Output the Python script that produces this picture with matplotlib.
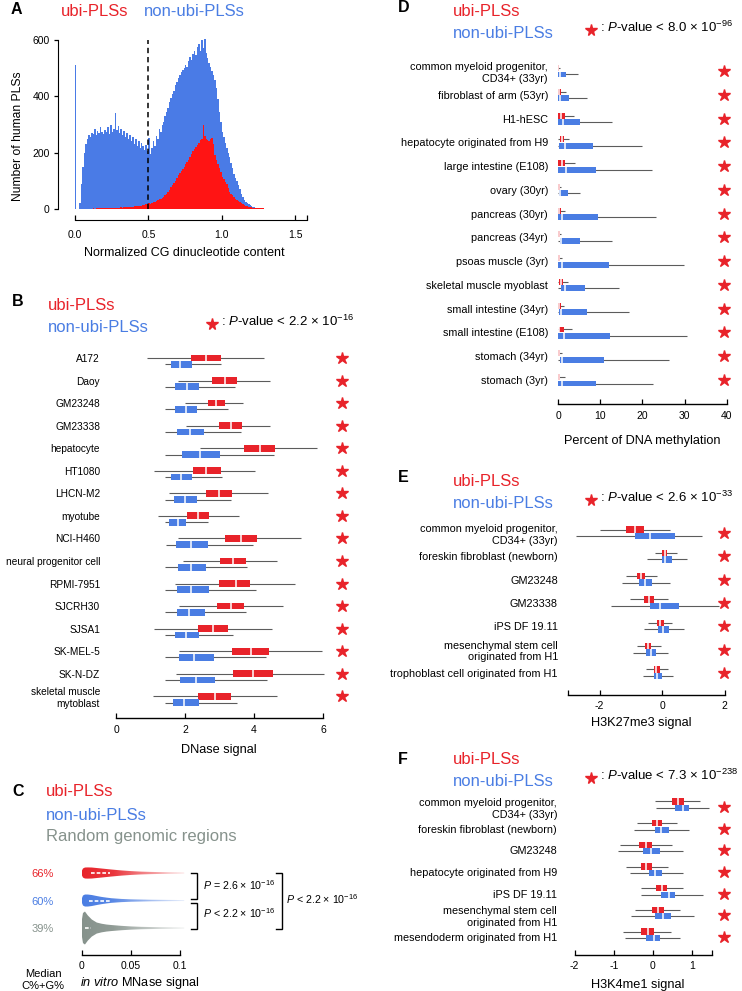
import numpy as np
import matplotlib
matplotlib.use('Agg')
import matplotlib.pyplot as plt
from matplotlib.patches import Polygon

plt.rcParams['font.family'] = ['Liberation Sans', 'DejaVu Sans']
plt.rcParams['mathtext.fontset'] = 'custom'
plt.rcParams['mathtext.rm'] = 'Liberation Sans'
plt.rcParams['mathtext.it'] = 'Liberation Sans:italic'
plt.rcParams['mathtext.bf'] = 'Liberation Sans:bold'
plt.rcParams['axes.unicode_minus'] = False

RED = '#e8232a'
BLUE = '#4a7de3'
GRAY = '#86928c'
HIST_RED = '#ff1414'
HIST_BLUE = '#4a7be6'
WHISK = '#5c5c5c'

# ---- panel A : histogram of normalized CG content (bin width 0.01, from 0) ----
a_bin = 0.01
a_non_ubi = [510, 0, 0, 20, 90, 150, 200, 230, 250, 262,
             255, 270, 268, 285, 262, 278, 270, 290, 275, 268,
             280, 272, 290, 268, 300, 275, 285, 342, 280, 295,
             270, 285, 262, 278, 255, 270, 248, 262, 240, 255,
             232, 248, 225, 240, 218, 235, 222, 210, 228, 205,
             252, 195, 215, 240, 225, 260, 250, 285, 275, 300,
             310, 330, 345, 360, 380, 395, 410, 420, 440, 450,
             465, 475, 485, 495, 500, 510, 505, 525, 540, 530,
             550, 560, 545, 575, 585, 560, 600, 570, 605, 555,
             535, 520, 505, 490, 475, 458, 430, 390, 345, 310,
             275, 255, 235, 215, 200, 185, 165, 145, 125, 110,
             100, 85, 70, 55, 42, 32, 25, 20, 16, 14,
             10, 8, 6, 5, 4, 3, 3, 2, 2, 1,
             1, 1, 1, 0, 0, 0, 0, 0, 0, 0]
a_ubi = [0, 0, 0, 0, 0, 1, 1, 1, 1, 1,
         1, 1, 2, 1, 2, 2, 2, 3, 2, 3,
         3, 3, 4, 3, 4, 4, 5, 4, 5, 5,
         5, 6, 5, 6, 7, 6, 7, 8, 7, 8,
         9, 10, 9, 11, 12, 11, 13, 14, 16, 18,
         20, 18, 22, 24, 26, 28, 31, 34, 37, 40,
         44, 48, 55, 60, 68, 78, 85, 92, 100, 110,
         120, 128, 135, 142, 150, 160, 168, 175, 185, 195,
         205, 212, 220, 228, 235, 245, 250, 300, 260, 250,
         245, 240, 248, 252, 230, 190, 175, 160, 145, 130,
         115, 105, 95, 88, 75, 62, 55, 48, 42, 36,
         32, 28, 24, 20, 17, 14, 12, 10, 8, 7,
         6, 5, 4, 4, 3, 3, 2, 2, 2, 1,
         1, 1, 1, 1, 1, 1, 1, 1, 1, 1]
a_cutoff = 0.5

# ---- panel B : DNase signal  (low whisker, q1, median, q3, high whisker) ----
b_cells = ['A172', 'Daoy', 'GM23248', 'GM23338', 'hepatocyte', 'HT1080',
           'LHCN-M2', 'myotube', 'NCI-H460', 'neural progenitor cell',
           'RPMI-7951', 'SJCRH30', 'SJSA1', 'SK-MEL-5', 'SK-N-DZ',
           'skeletal muscle\nmytoblast']
b_ubi = [(0.89, 2.16, 2.60, 3.03, 4.29), (1.80, 2.79, 3.15, 3.50, 4.45),
         (2.01, 2.66, 2.91, 3.15, 3.69), (2.03, 2.98, 3.32, 3.64, 4.47),
         (2.43, 3.71, 4.17, 4.60, 5.83), (1.11, 2.23, 2.62, 3.03, 4.03),
         (1.54, 2.60, 2.98, 3.35, 4.41), (1.21, 2.06, 2.38, 2.70, 3.57),
         (1.80, 3.15, 3.61, 4.10, 5.36), (1.94, 3.01, 3.39, 3.78, 4.66),
         (1.70, 2.98, 3.47, 3.88, 5.19), (1.83, 2.93, 3.32, 3.71, 4.83),
         (1.11, 2.38, 2.82, 3.25, 4.53), (1.82, 3.35, 3.90, 4.44, 5.97),
         (1.74, 3.39, 3.98, 4.55, 6.04), (1.06, 2.38, 2.86, 3.32, 4.68)]
b_non_ubi = [(1.43, 1.59, 1.86, 2.20, 3.05), (1.43, 1.72, 2.06, 2.42, 3.45),
             (1.43, 1.72, 2.04, 2.35, 3.25), (1.43, 1.77, 2.14, 2.54, 3.63),
             (1.43, 1.91, 2.43, 3.00, 4.58), (1.43, 1.59, 1.88, 2.20, 3.06),
             (1.43, 1.67, 1.99, 2.35, 3.32), (1.43, 1.55, 1.79, 2.03, 2.66),
             (1.45, 1.75, 2.16, 2.66, 3.97), (1.43, 1.79, 2.17, 2.61, 3.79),
             (1.43, 1.77, 2.17, 2.71, 4.05), (1.43, 1.77, 2.13, 2.59, 3.76),
             (1.43, 1.70, 2.03, 2.42, 3.40), (1.43, 1.82, 2.27, 2.83, 4.36),
             (1.43, 1.86, 2.33, 2.88, 4.39), (1.43, 1.64, 1.96, 2.40, 3.51)]

# ---- panel C : in vitro MNase signal violins ----
c_median_gc = ['66%', '60%', '39%']
c_grid = [0, 0.001, 0.003, 0.006, 0.01, 0.015, 0.02, 0.025, 0.03, 0.04,
          0.05, 0.06, 0.07, 0.08, 0.09, 0.1, 0.104]
c_ubi_density = [2.5, 4.5, 5.5, 5.6, 5.5, 5.0, 4.5, 4.0, 3.5, 2.6,
                 1.9, 1.4, 1.1, 0.9, 0.7, 0.6, 0.5]
c_non_ubi_density = [2.5, 5.0, 6.0, 6.0, 5.5, 4.5, 3.6, 2.9, 2.3, 1.6,
                     1.2, 1.0, 0.8, 0.7, 0.6, 0.5, 0.5]
c_random_density = [9.0, 15.0, 16.5, 12.5, 8.5, 5.5, 4.3, 3.5, 3.0, 2.2,
                    1.6, 1.2, 1.0, 0.8, 0.7, 0.6, 0.5]
c_iqr = [(0.009, 0.028), (0.007, 0.028), (0.003, 0.009)]
c_pvalues = ['$\\mathit{P}$ = 2.6 × 10$^{-16}$', '$\\mathit{P}$ < 2.2 × 10$^{-16}$',
             '$\\mathit{P}$ < 2.2 × 10$^{-16}$']

# ---- panel D : percent of DNA methylation ----
d_cells = ['common myeloid progenitor,\nCD34+ (33yr)', 'fibroblast of arm (53yr)',
           'H1-hESC', 'hepatocyte originated from H9', 'large intestine (E108)',
           'ovary (30yr)', 'pancreas (30yr)', 'pancreas (34yr)', 'psoas muscle (3yr)',
           'skeletal muscle myoblast', 'small intestine (34yr)',
           'small intestine (E108)', 'stomach (34yr)', 'stomach (3yr)']
d_ubi = [(0, 0, 0.1, 0.25, 0.4), (0, 0, 0.3, 0.8, 2.0), (0, 0, 0.6, 1.6, 3.75),
         (0, 0.4, 0.9, 1.4, 2.6), (0, 0, 0.9, 1.7, 4.1), (0, 0, 0.2, 0.45, 0.8),
         (0, 0, 0.3, 0.6, 1.7), (0, 0, 0.2, 0.45, 0.8), (0, 0, 0.2, 0.45, 0.9),
         (0, 0.2, 0.8, 1.3, 2.3), (0, 0, 0.3, 0.6, 1.4), (0, 0.15, 0.3, 1.4, 3.4),
         (0, 0, 0.2, 0.5, 1.0), (0, 0, 0.25, 0.5, 1.6)]
d_non_ubi = [(0, 0, 0.4, 1.8, 4.7), (0, 0, 0.5, 2.7, 6.9), (0, 0, 1.2, 5.2, 12.8),
             (0, 0.2, 1.6, 8.3, 19.9), (0, 0, 1.8, 9.0, 22.3), (0, 0.15, 0.5, 2.3, 5.2),
             (0, 0, 0.9, 9.4, 23.2), (0, 0.4, 0.8, 5.3, 12.8), (0, 0, 0.9, 12.0, 29.9),
             (0, 0.8, 1.6, 6.3, 14.5), (0, 0.15, 0.8, 6.9, 16.9), (0, 0, 1.4, 12.3, 30.7),
             (0, 0.4, 1.0, 10.8, 26.3), (0, 0, 0.9, 9.1, 22.5)]

# ---- panel E : H3K27me3 signal ----
e_cells = ['common myeloid progenitor,\nCD34+ (33yr)', 'foreskin fibroblast (newborn)',
           'GM23248', 'GM23338', 'iPS DF 19.11',
           'mesenchymal stem cell\noriginated from H1', 'trophoblast cell originated from H1']
e_ubi = [(-1.98, -1.15, -0.87, -0.58, 0.24), (-0.23, 0.01, 0.08, 0.16, 0.49),
         (-1.16, -0.79, -0.66, -0.53, -0.16), (-1.03, -0.57, -0.41, -0.25, 0.19),
         (-0.44, -0.16, -0.05, 0.05, 0.32), (-0.79, -0.55, -0.44, -0.34, -0.04),
         (-0.50, -0.26, -0.18, -0.07, 0.19)]
e_non_ubi = [(-2.74, -0.85, -0.39, 0.42, 1.27), (-0.48, 0.0, 0.10, 0.33, 0.80),
             (-1.29, -0.73, -0.55, -0.32, 0.24), (-1.64, -0.39, -0.07, 0.53, 1.81),
             (-0.58, -0.13, 0.03, 0.22, 0.69), (-0.92, -0.52, -0.36, -0.18, 0.19),
             (-0.60, -0.25, -0.15, 0.0, 0.35)]

# ---- panel F : H3K4me1 signal ----
f_cells = ['common myeloid progenitor,\nCD34+ (33yr)', 'foreskin fibroblast (newborn)',
           'GM23248', 'hepatocyte originated from H9', 'iPS DF 19.11',
           'mesenchymal stem cell\noriginated from H1', 'mesendoderm originated from H1']
f_ubi = [(0.06, 0.49, 0.64, 0.78, 1.20), (-0.42, -0.03, 0.10, 0.24, 0.61),
         (-0.85, -0.36, -0.17, -0.02, 0.49), (-0.70, -0.31, -0.17, -0.03, 0.38),
         (-0.31, 0.08, 0.23, 0.36, 0.76), (-0.45, -0.03, 0.13, 0.27, 0.70),
         (-0.76, -0.31, -0.14, 0.03, 0.45)]
f_non_ubi = [(0.08, 0.57, 0.76, 0.93, 1.42), (-0.48, 0.04, 0.21, 0.40, 0.93),
             (-0.89, -0.25, -0.04, 0.17, 0.76), (-0.59, -0.11, 0.06, 0.24, 0.76),
             (-0.30, 0.21, 0.41, 0.57, 1.27), (-0.57, 0.04, 0.25, 0.47, 1.04),
             (-0.72, -0.17, 0.03, 0.19, 0.70)]

W, H = 742, 991
fig = plt.figure(figsize=(W / 100, H / 100), dpi=100)


def px_axes(x0, y0, x1, y1, xref, yref):
    '''axes placed in pixel coords, limits set so that xref/yref pixels hit given values'''
    ax = fig.add_axes([x0 / W, 1 - y1 / H, (x1 - x0) / W, (y1 - y0) / H])
    def lin(p, ref):
        (pa, va), (pb, vb) = ref
        return va + (p - pa) * (vb - va) / (pb - pa)
    ax.set_xlim(lin(x0, xref), lin(x1, xref))
    ax.set_ylim(lin(y1, yref), lin(y0, yref))
    ax.patch.set_visible(False)
    return ax


def bottom_axis(ax, ticks, labels, bounds, pad=5):
    for s in ['top', 'right', 'left']:
        ax.spines[s].set_visible(False)
    ax.spines['bottom'].set_bounds(*bounds)
    ax.spines['bottom'].set_linewidth(1.0)
    ax.set_xticks(ticks)
    ax.set_xticklabels(labels)
    ax.tick_params(axis='x', direction='in', length=3.5, width=0.9, labelsize=7.5, pad=pad)


def box_rows(ax, labels, ubi, non_ubi, red_off, blue_off, h, star_x, labelsize=7.8):
    rows = np.arange(len(labels))
    for stats, off, color in [(ubi, red_off, RED), (non_ubi, blue_off, BLUE)]:
        s = np.array(stats, dtype=float)
        y = rows + off
        ax.hlines(y, s[:, 0], s[:, 4], color=WHISK, lw=0.8, zorder=1)
        ax.barh(y, s[:, 3] - s[:, 1], left=s[:, 1], height=h, color=color, lw=0, zorder=2)
        ax.vlines(s[:, 2], y - h / 2, y + h / 2, color='white', lw=1.1, zorder=3)
    ax.plot(np.full(len(rows), star_x), rows, ls='none', marker='*', ms=9,
            color=RED, mec=RED, clip_on=False)
    ax.set_yticks(rows)
    ax.set_yticklabels(labels)
    ax.tick_params(axis='y', length=0, labelsize=labelsize, pad=3.6)


# ---- A ----
axA = px_axes(58, 30, 310, 220, ((75, 0.0), (295, 1.5)), ((209, 0), (40, 600)))
lefts = np.arange(len(a_non_ubi)) * a_bin
axA.bar(lefts, a_non_ubi, width=a_bin, align='edge', color=HIST_BLUE, lw=0)
axA.bar(lefts, a_ubi, width=a_bin, align='edge', color=HIST_RED, lw=0)
axA.vlines(a_cutoff, 0, 600, colors='black', linestyles=(0, (3.5, 2.5)), lw=1.1)
for s in ['top', 'right']:
    axA.spines[s].set_visible(False)
axA.spines['left'].set_bounds(0, 600)
axA.spines['bottom'].set_bounds(0, 1.58)
axA.set_yticks([0, 200, 400, 600])
axA.set_xticks([0, 0.5, 1.0, 1.5, 1.58])
axA.set_xticklabels(['0.0', '0.5', '1.0', '1.5', ''])
axA.tick_params(axis='x', direction='in', length=3.5, width=0.9, labelsize=7.5, pad=7)
axA.tick_params(axis='y', direction='out', length=3, width=0.9, labelsize=7.5, pad=3)

# ---- B ----
axB = px_axes(105, 344.5, 335, 718, ((116, 0), (323, 6)), ((358, 0), (380.55, 1)))
box_rows(axB, b_cells, b_ubi, b_non_ubi, 0.0, 0.28, 0.3, 6.55, labelsize=7.3)
bottom_axis(axB, [0, 2, 4, 6], ['0', '2', '4', '6'], (0, 6))

# ---- C ----
axC = px_axes(75, 855, 300, 955, ((82, 0), (180.3, 0.1)), ((873, 0), (900.5, 1)))
c_colors = [RED, BLUE, GRAY]
c_scale = 1 / 27.5
for i, dens in enumerate([c_ubi_density, c_non_ubi_density, c_random_density]):
    xs = np.array(c_grid)
    hw = np.array(dens) * c_scale
    verts = np.concatenate([np.column_stack([xs, i - hw]),
                            np.column_stack([xs[::-1], i + hw[::-1]])])
    poly = Polygon(verts, closed=True, facecolor='none', edgecolor='none')
    axC.add_patch(poly)
    rgb = matplotlib.colors.to_rgb(c_colors[i])
    t = np.linspace(0, 1, 256)
    grad = np.zeros((1, 256, 4))
    grad[..., :3] = rgb
    grad[..., 3] = np.interp(t, [0, 0.3, 1], [1, 0.92, 0.12])
    im = axC.imshow(grad, extent=[xs[0], xs[-1], i - 0.7, i + 0.7],
                    aspect='auto', interpolation='bilinear', zorder=2)
    im.set_clip_path(poly)
    axC.hlines(i, c_iqr[i][0], c_iqr[i][1], colors='white',
               linestyles=(0, (2.2, 1.2)), lw=1.2, zorder=3)
axC.set_xlim(-0.00712, 0.2218)
axC.set_ylim(2.98, -0.655)
bottom_axis(axC, [0, 0.05, 0.1], ['0', '0.05', '0.1'], (0, 0.1), pad=4)
axC.set_yticks([0, 1, 2])
axC.set_yticklabels(c_median_gc)
axC.tick_params(axis='y', length=0, labelsize=8, pad=15.5)
for lab, col in zip(axC.get_yticklabels(), c_colors):
    lab.set_color(col)


def bracket(ax, x, y0, y1, tick=0.006):
    ax.plot([x - tick, x, x, x - tick], [y0, y0, y1, y1], color='black',
            lw=1.0, clip_on=False, solid_joinstyle='miter')


bracket(axC, 0.117, 0.0, 0.945)
bracket(axC, 0.117, 1.09, 2.03)
bracket(axC, 0.2035, 0.0, 2.03)
axC.text(0.123, 0.44, c_pvalues[0], fontsize=7.7, va='center', ha='left', clip_on=False)
axC.text(0.123, 1.455, c_pvalues[1], fontsize=7.7, va='center', ha='left', clip_on=False)
axC.text(0.2075, 0.945, c_pvalues[2], fontsize=7.7, va='center', ha='left', clip_on=False)

# ---- D ----
axD = px_axes(553, 56, 733, 404, ((558, 0), (726.7, 40)), ((71, 0), (94.77, 1)))
box_rows(axD, d_cells, d_ubi, d_non_ubi, -0.126, 0.147, 0.25, 39.3)
bottom_axis(axD, [0, 10, 20, 30, 40], ['0', '10', '20', '30', '40'], (0, 40))

# ---- E ----
axE = px_axes(563, 515, 733, 695, ((662, 0), (724.5, 2)), ((533, 0), (556.33, 1)))
box_rows(axE, e_cells, e_ubi, e_non_ubi, -0.15, 0.13, 0.28, 1.98)
bottom_axis(axE, [-3, -2, 0, 2], ['', '-2', '0', '2'], (-3, 2), pad=4)

# ---- F ----
axF = px_axes(562, 790, 733, 955, ((653, 0), (692.2, 1)), ((807, 0), (828.67, 1)))
box_rows(axF, f_cells, f_ubi, f_non_ubi, -0.254, 0.046, 0.29, 1.81)
bottom_axis(axF, [-2, -1, 0, 1, 1.5], ['-2', '-1', '0', '1', ''], (-2, 1.5), pad=4)

# ---- free text, in pixel coordinates ----
ov = fig.add_axes([0, 0, 1, 1], zorder=10)
ov.set_xlim(0, W)
ov.set_ylim(H, 0)
ov.axis('off')


def letter(x, y, s):
    ov.text(x, y, s, fontsize=11.5, fontweight='bold', va='center', ha='left')


def legend_pair(x, y_ubi, y_non, star=None):
    ov.text(x, y_ubi, 'ubi-PLSs', color=RED, fontsize=12, va='center', ha='left')
    ov.text(x, y_non, 'non-ubi-PLSs', color=BLUE, fontsize=12, va='center', ha='left')
    if star is not None:
        sx, sy, ptxt = star
        ov.plot([sx], [sy + 2.5], marker='*', ms=8.5, color=RED, mec=RED)
        ov.text(sx + 9, sy, ': $\\mathit{P}$-value < ' + ptxt, fontsize=9.5,
                va='center', ha='left')


letter(11, 9, 'A')
ov.text(61, 11, 'ubi-PLSs', color=RED, fontsize=12, va='center', ha='left')
ov.text(144, 11, 'non-ubi-PLSs', color=BLUE, fontsize=12, va='center', ha='left')
ov.text(18, 136, 'Number of human PLSs', rotation=90, fontsize=8.7, va='center', ha='center')
ov.text(184, 253, 'Normalized CG dinucleotide content', fontsize=9, va='center', ha='center')

letter(12, 302, 'B')
legend_pair(48, 305, 327.5, (212, 321, '2.2 × 10$^{-16}$'))
ov.text(219, 750, 'DNase signal', fontsize=9.2, va='center', ha='center')

letter(12, 792, 'C')
ov.text(46, 792, 'ubi-PLSs', color=RED, fontsize=12, va='center', ha='left')
ov.text(46, 815, 'non-ubi-PLSs', color=BLUE, fontsize=12, va='center', ha='left')
ov.text(46, 837, 'Random genomic regions', color=GRAY, fontsize=12, va='center', ha='left')
ov.text(43, 980, 'Median\nC%+G%', fontsize=8, va='center', ha='center', linespacing=1.25)
ov.text(140, 983, '$\\mathit{in\\ vitro}$ MNase signal', fontsize=9.2, va='center', ha='center')

letter(398, 8, 'D')
legend_pair(453, 12, 33.5, (591, 27, '8.0 × 10$^{-96}$'))
ov.text(642, 441, 'Percent of DNA methylation', fontsize=9.2, va='center', ha='center')

letter(398, 477, 'E')
legend_pair(453, 481, 503.5, (591, 497, '2.6 × 10$^{-33}$'))
ov.text(641, 723, 'H3K27me3 signal', fontsize=9.2, va='center', ha='center')

letter(398, 760, 'F')
legend_pair(453, 759, 781, (591, 775.5, '7.3 × 10$^{-238}$'))
ov.text(638, 985, 'H3K4me1 signal', fontsize=9.2, va='center', ha='center')

fig.savefig('out.png', dpi=100)
